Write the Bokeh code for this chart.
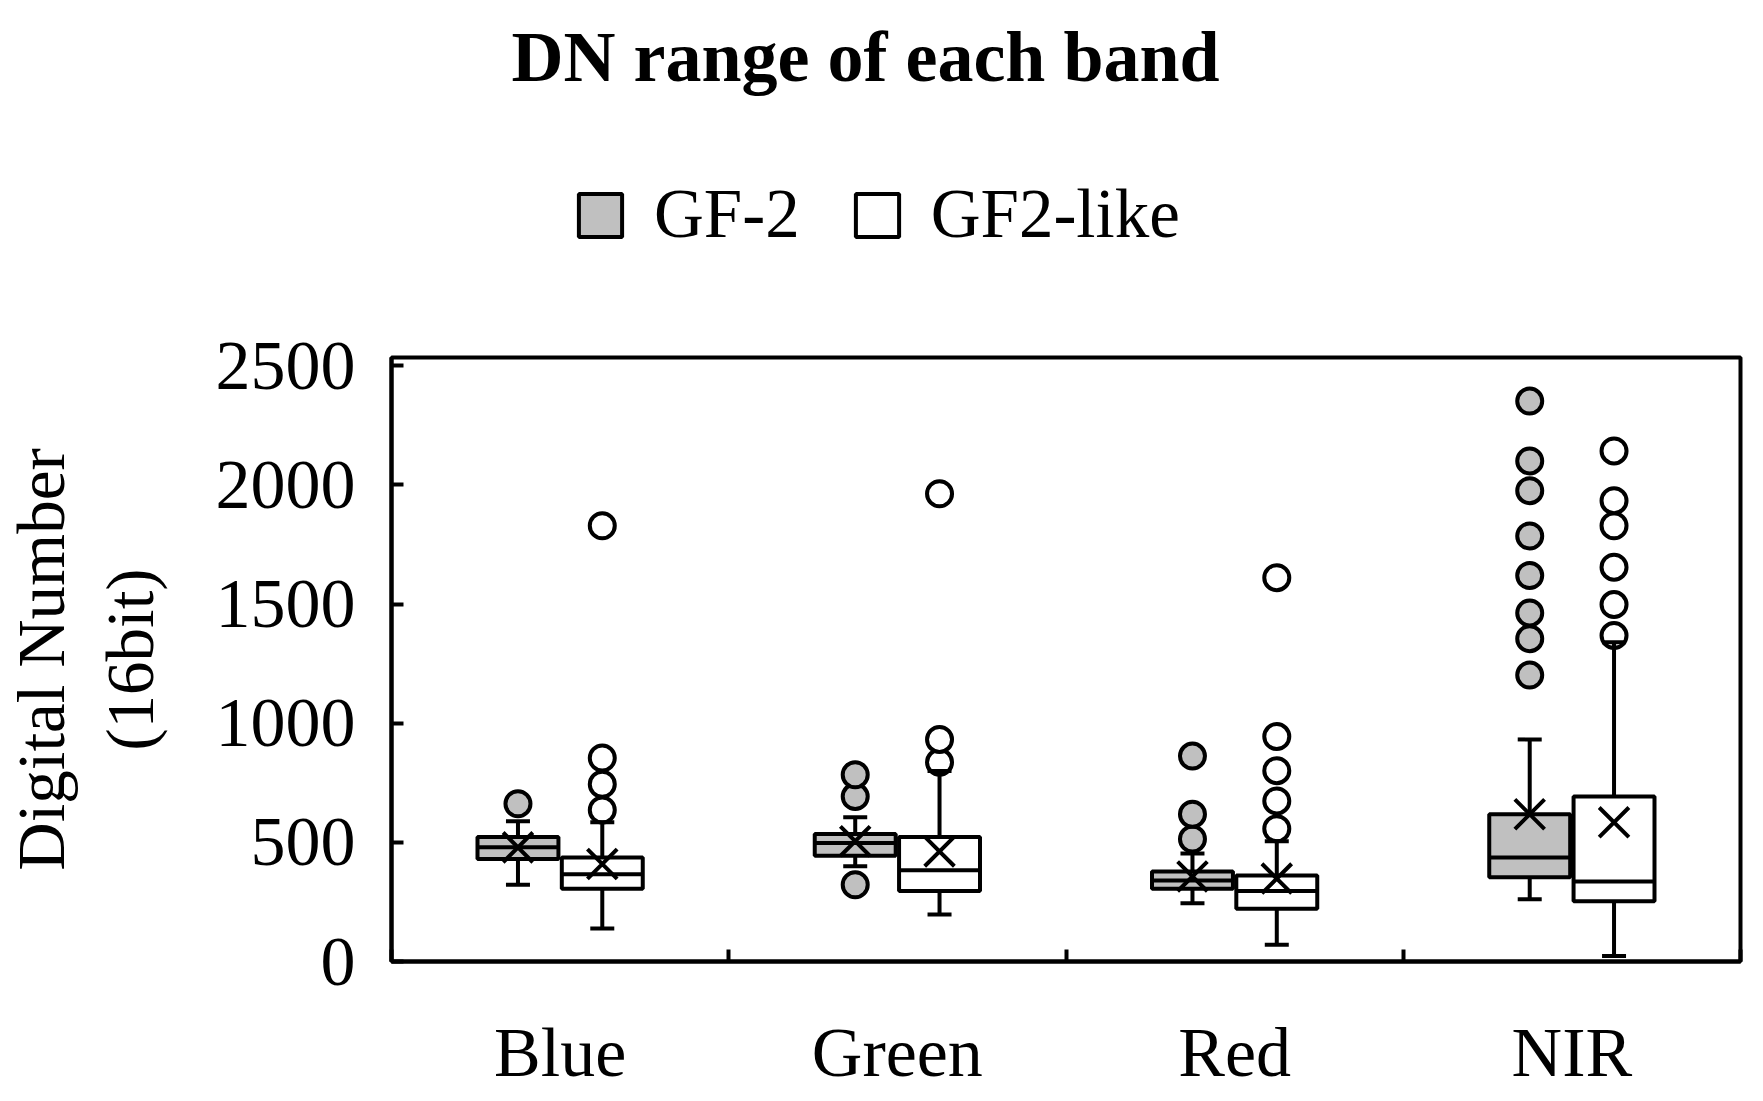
from bokeh.plotting import figure
from bokeh.layouts import column
from bokeh.models import (Range1d, LinearAxis, FixedTicker, Whisker, TeeHead, ColumnDataSource,
                          Legend, LegendItem, Label)
from bokeh.transform import dodge
from bokeh.embed import file_html
from bokeh.resources import INLINE

# ---------------- data ----------------
bands = ["Blue", "Green", "Red", "NIR"]
series = ["GF-2", "GF2-like"]
title_text = "DN  range of each band"
y_ticks = [0, 500, 1000, 1500, 2000, 2500]

gf2_q1 = [430, 444, 305, 354]
gf2_median = [479, 497, 340, 436]
gf2_q3 = [523, 535, 378, 618]
gf2_mean = [479, 505, 357, 618]
gf2_wlow = [322, 400, 244, 261]
gf2_whigh = [589, 605, 453, 932]
gf2_outliers = {
    "Blue": [662],
    "Green": [322, 692, 784],
    "Red": [514, 618, 862],
    "NIR": [1202, 1355, 1463, 1620, 1786, 1976, 2101, 2352],
}

like_q1 = [305, 296, 221, 253]
like_median = [366, 383, 296, 336]
like_q3 = [436, 523, 361, 692]
like_mean = [409, 462, 348, 584]
like_wlow = [139, 197, 70, 23]
like_whigh = [584, 800, 505, 1340]
like_outliers = {
    "Blue": [636, 744, 854, 1829],
    "Green": [836, 932, 1963],
    "Red": [557, 674, 801, 944, 1611],
    "NIR": [1368, 1498, 1655, 1829, 1934, 2143],
}

# ---------------- styling ----------------
FONT = "Liberation Serif"
GRAY = "#c0c0c0"
LW = 4
OFFSET = 0.125
BOX_W = 0.24
W = 1755
HEAD_H = 300
FRAME_LEFT = 390
NAN = float("nan")

# ---------------- header (title + legend) ----------------
# (its frame is aligned with the main plot's frame by the column layout)
head = figure(width=W, height=HEAD_H, x_range=Range1d(0, 1), y_range=Range1d(0, 1),
              x_axis_location=None, y_axis_location=None, output_backend="svg",
              toolbar_location=None, min_border=0)
head.grid.visible = False
head.outline_line_color = None
head.border_fill_color = "white"
head.background_fill_color = "white"

head.add_layout(Label(x=873 - FRAME_LEFT, y=HEAD_H - 56, x_units="screen", y_units="screen",
                      text=title_text, text_align="center", text_baseline="middle", text_font=FONT,
                      text_font_size="72px", text_font_style="bold", text_color="black"))

# legend-only swatches (no drawable coordinates)
r_gf2 = head.vbar(x=[NAN], top=[NAN], bottom=[NAN], width=0.1,
                  fill_color=GRAY, line_color="black", line_width=LW)
r_like = head.vbar(x=[NAN], top=[NAN], bottom=[NAN], width=0.1,
                   fill_color="white", line_color="black", line_width=LW)
legend = Legend(items=[LegendItem(label=series[0], renderers=[r_gf2]),
                       LegendItem(label=series[1], renderers=[r_like])],
                orientation="horizontal", location=(572 - FRAME_LEFT, HEAD_H - 254),
                label_text_font=FONT, label_text_font_size="69px", label_text_color="black",
                glyph_width=54, glyph_height=54, label_standoff=27, spacing=50,
                padding=0, margin=0, border_line_color=None, background_fill_alpha=0)
head.add_layout(legend, "center")

# ---------------- main box plot ----------------
n = len(bands)
p = figure(width=W, height=1100 - HEAD_H,
           x_range=Range1d(-0.5, n - 0.5), y_range=Range1d(0, 2535),
           x_axis_location=None, output_backend="svg", toolbar_location=None,
           min_border_left=FRAME_LEFT, min_border_right=15, min_border_top=357 - HEAD_H,
           min_border_bottom=139)
p.grid.visible = False
p.outline_line_color = "black"
p.outline_line_width = LW
p.background_fill_color = "white"
p.border_fill_color = "white"

yax = p.yaxis[0]
yax.ticker = FixedTicker(ticks=y_ticks)
yax.major_tick_in = 12
yax.major_tick_out = 0
yax.minor_tick_line_color = None
yax.axis_line_width = LW
yax.major_tick_line_width = LW
yax.major_label_text_font = FONT
yax.major_label_text_font_size = "70px"
yax.major_label_text_color = "black"
yax.major_label_standoff = 36
yax.axis_label = "Digital Number\n(16bit)"
yax.axis_label_text_font = FONT
yax.axis_label_text_font_size = "67px"
yax.axis_label_text_font_style = "normal"
yax.axis_label_text_color = "black"
yax.axis_label_standoff = 46

# x axis: category boundary ticks (no labels)
tick_ax = LinearAxis(ticker=FixedTicker(ticks=[i - 0.5 for i in range(n + 1)]),
                     major_tick_in=12, major_tick_out=0, minor_tick_line_color=None,
                     axis_line_width=LW, major_tick_line_width=LW,
                     major_label_text_color=None, major_label_text_font_size="1px",
                     major_label_standoff=0)
p.add_layout(tick_ax, "below")
# x axis: category labels at centres
cat_ax = LinearAxis(ticker=FixedTicker(ticks=list(range(n))),
                    major_label_overrides={i: b for i, b in enumerate(bands)},
                    axis_line_color=None, major_tick_line_color=None, minor_tick_line_color=None,
                    major_label_text_font=FONT, major_label_text_font_size="70px",
                    major_label_text_color="black", major_label_standoff=46)
p.add_layout(cat_ax, "below")


def draw(q1, med, q3, mean, wlow, whigh, outliers, off, fill):
    src = ColumnDataSource(dict(pos=list(range(n)), q1=q1, med=med, q3=q3, mean=mean, lo=wlow, hi=whigh))
    w_up = Whisker(source=src, base=dodge("pos", off), upper="hi", lower="q3",
                   lower_head=None, upper_head=TeeHead(size=24, line_width=LW, line_color="black"),
                   line_width=LW, line_color="black", level="glyph")
    w_dn = Whisker(source=src, base=dodge("pos", off), upper="q1", lower="lo",
                   upper_head=None, lower_head=TeeHead(size=24, line_width=LW, line_color="black"),
                   line_width=LW, line_color="black", level="glyph")
    p.add_layout(w_up)
    p.add_layout(w_dn)
    p.vbar(x=dodge("pos", off), width=BOX_W, top="q3", bottom="q1", source=src,
           fill_color=fill, line_color="black", line_width=LW)
    p.segment(x0=dodge("pos", off - BOX_W / 2), x1=dodge("pos", off + BOX_W / 2),
              y0="med", y1="med", source=src, line_color="black", line_width=LW)
    p.scatter(x=dodge("pos", off), y="mean", source=src, marker="x", size=42,
              line_color="black", line_width=LW)
    op, ov = [], []
    for i, b in enumerate(bands):
        for v in outliers[b]:
            op.append(i)
            ov.append(v)
    osrc = ColumnDataSource(dict(pos=op, val=ov))
    p.scatter(x=dodge("pos", off), y="val", source=osrc, marker="circle", size=25,
              fill_color=fill, line_color="black", line_width=LW)


draw(gf2_q1, gf2_median, gf2_q3, gf2_mean, gf2_wlow, gf2_whigh, gf2_outliers, -OFFSET, GRAY)
draw(like_q1, like_median, like_q3, like_mean, like_wlow, like_whigh, like_outliers, OFFSET, "white")

layout = column(head, p, spacing=0)
open("out.html", "w").write(file_html(layout, INLINE))
